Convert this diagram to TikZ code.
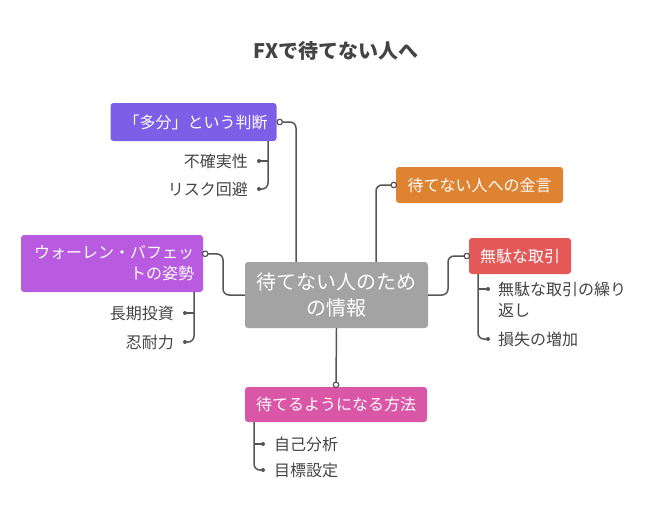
\documentclass[tikz,border=0pt]{standalone}
\usepackage{fontspec}
\usetikzlibrary{calc}
\setmainfont{Noto Sans CJK JP}
\definecolor{cpurple}{HTML}{7B5FE6}
\definecolor{cmagenta}{HTML}{B85BE0}
\definecolor{corange}{HTML}{DD8332}
\definecolor{cred}{HTML}{E45858}
\definecolor{cpink}{HTML}{DA57A7}
\definecolor{cgray}{HTML}{A3A3A3}
\definecolor{cline}{HTML}{555555}
\definecolor{ctext}{HTML}{444444}
\tikzset{
  box/.style={rectangle, rounded corners=3pt, inner sep=0pt, text=white, font=\fontsize{16}{21}\selectfont},
  leaf/.style={inner sep=0pt, text=ctext, font=\fontsize{16}{21}\selectfont},
  conn/.style={draw=cline, line width=1.5pt, rounded corners=6pt},
  odot/.style={circle, draw=cline, fill=white, line width=1.2pt, inner sep=0pt, minimum size=5.5pt},
  fdot/.style={circle, fill=cline, inner sep=0pt, minimum size=4pt},
}
\begin{document}
\begin{tikzpicture}[x=1pt,y=-1pt]
\useasboundingbox (0,0) rectangle (650,522);

\node[font=\fontsize{20}{24}\selectfont\bfseries, text=ctext] (title) at (336,51) {FXで待てない人へ};

% boxes
\node[box, fill=cgray, minimum width=183pt, minimum height=66pt, text width=170pt, align=center, font=\fontsize{20}{26}\selectfont] (c) at (336.5,295) {待てない人のため\\の情報};
\node[box, fill=cpurple, minimum width=166pt, minimum height=38pt, text width=148pt, align=right] (p1) at (193.5,122) {「多分」という判断};
\node[box, fill=corange, minimum width=167pt, minimum height=36pt] (o1) at (479.5,185) {待てない人への金言};
\node[box, fill=cred, minimum width=102pt, minimum height=36pt] (r1) at (520,256) {無駄な取引};
\node[box, fill=cmagenta, minimum width=182pt, minimum height=57pt, text width=164pt, align=right] (b1) at (112,263.5) {ウォーレン・バフェッ\\トの姿勢};
\node[box, fill=cpink, minimum width=182pt, minimum height=35pt] (k1) at (336,404.5) {待てるようになる方法};

% leaves
\node[leaf, anchor=east] (p1a) at (248,161) {不確実性};
\node[leaf, anchor=east] (p1b) at (248,189) {リスク回避};
\node[leaf, anchor=east] (b1a) at (174,313) {長期投資};
\node[leaf, anchor=east] (b1b) at (174,342) {忍耐力};
\node[leaf, anchor=west, align=left] (r1a) at (498,299.5) {無駄な取引の繰り\\返し};
\node[leaf, anchor=west] (r1b) at (498,339) {損失の増加};
\node[leaf, anchor=west] (k1a) at (274,444) {自己分析};
\node[leaf, anchor=west] (k1b) at (274,470) {目標設定};

% start dots
\coordinate (p1d) at ($(p1.east)+(3,0)$);
\coordinate (o1d) at ($(o1.west)+(-2,0)$);
\coordinate (r1d) at ($(r1.west)+(-2,0)$);
\coordinate (b1d) at ($(b1.north east)+(2,19)$);
\coordinate (k1d) at ($(k1.north)+(0,-2)$);

% main connectors
\draw[conn] (p1d) -- (296,122) -- (c.north -| 296,0);
\draw[conn] (c.north -| 376,0) -- (376,185) -- (o1d);
\draw[conn] (c.east) -- (448,295) -- (448,256) -- (r1d);
\draw[conn] (b1d) -- (223,254) -- (223,295) -- (c.west);
\draw[conn] (c.south) -- (k1d);

% leaf connectors
\coordinate (p1ad) at (259,161);
\coordinate (p1bd) at (259,189);
\draw[conn] (p1.south -| 268,0) -- (268,189) -- (p1bd);
\draw[conn] (268,161) -- (p1ad);

\coordinate (b1ad) at (185,313);
\coordinate (b1bd) at (185,342);
\draw[conn] (b1.south -| 194,0) -- (194,342) -- (b1bd);
\draw[conn] (194,313) -- (b1ad);

\coordinate (r1ad) at (488,289);
\coordinate (r1bd) at (488,339);
\draw[conn] (r1.south -| 478,0) -- (478,339) -- (r1bd);
\draw[conn] (478,289) -- (r1ad);

\coordinate (k1ad) at (263,444);
\coordinate (k1bd) at (263,470);
\draw[conn] (k1.south -| 254,0) -- (254,470) -- (k1bd);
\draw[conn] (254,444) -- (k1ad);

% dots
\foreach \d in {p1d,o1d,r1d,b1d,k1d} \node[odot] at (\d) {};
\foreach \d in {p1ad,p1bd,b1ad,b1bd,r1ad,r1bd,k1ad,k1bd} \node[fdot] at (\d) {};
\end{tikzpicture}
\end{document}
